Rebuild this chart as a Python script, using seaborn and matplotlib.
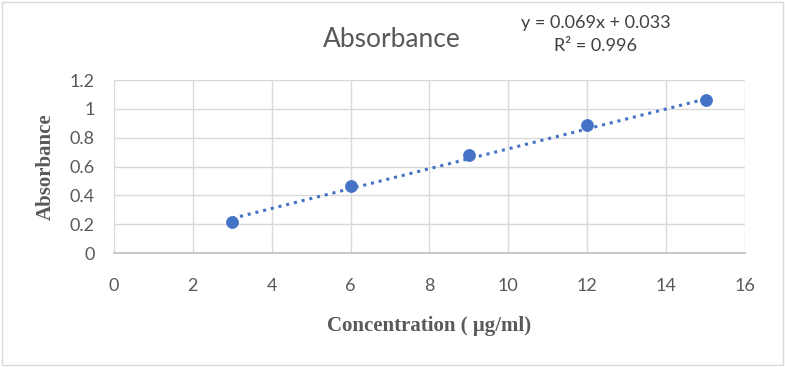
"""Calibration curve: absorbance vs concentration with linear trendline."""

import numpy as np
import pandas as pd
import matplotlib
matplotlib.use("Agg")
import matplotlib.pyplot as plt
from matplotlib.patches import Rectangle
import seaborn as sns

concentration = [3, 6, 9, 12, 15]
absorbance = [0.215, 0.465, 0.68, 0.888, 1.061]
slope = 0.069
intercept = 0.033
r_squared = 0.996
x_ticks = [0, 2, 4, 6, 8, 10, 12, 14, 16]
y_ticks = [0, 0.2, 0.4, 0.6, 0.8, 1.0, 1.2]
y_tick_labels = ["0", "0.2", "0.4", "0.6", "0.8", "1", "1.2"]

BLUE = "#4472C4"
TEXT = "#595959"
GRID = "#d9d9d9"


def main():
    sns.set_style("white")
    plt.rcParams["font.family"] = ["Lato", "DejaVu Sans"]

    df = pd.DataFrame({"conc": concentration, "abs": absorbance})
    trend_x = np.array([concentration[0], concentration[-1]])
    trend = pd.DataFrame({"conc": trend_x, "abs": slope * trend_x + intercept})

    fig = plt.figure(figsize=(7.85, 3.67), dpi=100)
    ax = fig.add_axes([0.1452, 0.3106, 0.949 - 0.1452, 0.782 - 0.3106])

    sns.lineplot(data=trend, x="conc", y="abs", ax=ax, color=BLUE,
                 linestyle=(0, (1, 1.6)), linewidth=2.2, zorder=2)
    sns.scatterplot(data=df, x="conc", y="abs", ax=ax, color=BLUE,
                    s=75, edgecolor=BLUE, linewidth=0.5, zorder=3)

    ax.set_xlim(0, 16)
    ax.set_ylim(0, 1.2)
    ax.set_xticks(x_ticks)
    ax.set_yticks(y_ticks)
    ax.set_yticklabels(y_tick_labels)
    ax.grid(True, color=GRID, linewidth=1)
    ax.set_axisbelow(True)
    for side in ["top", "right", "left"]:
        ax.spines[side].set_visible(False)
    ax.spines["bottom"].set_color("#bfbfbf")
    ax.spines["bottom"].set_linewidth(1.2)
    ax.tick_params(axis="both", length=0, labelsize=13, colors=TEXT)
    ax.tick_params(axis="x", pad=18)
    ax.tick_params(axis="y", pad=14)

    serif = {"family": "Liberation Serif", "weight": "bold", "size": 15, "color": TEXT}
    ax.set_xlabel("Concentration ( μg/ml)", fontdict=serif, labelpad=16)
    ax.set_ylabel("Absorbance", fontdict=serif, labelpad=10)

    fig.text(0.4995, 0.893, "Absorbance", ha="center", va="center",
             fontsize=19, color=TEXT)
    fig.text(0.759, 0.937, f"y = {slope}x + {intercept}", ha="center",
             va="center", fontsize=13, color="#404040")
    fig.text(0.759, 0.874, f"R² = {r_squared}", ha="center",
             va="center", fontsize=13, color="#404040")

    fig.patches.append(Rectangle((0.003, 0.005), 0.994, 0.99,
                                 transform=fig.transFigure, fill=False,
                                 edgecolor=GRID, linewidth=1))

    fig.savefig("out.png", dpi=100, facecolor="white")
    plt.close(fig)


if __name__ == "__main__":
    main()
